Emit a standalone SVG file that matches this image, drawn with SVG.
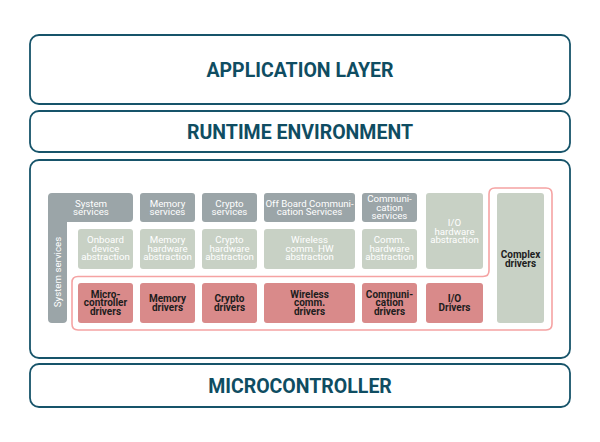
<svg xmlns="http://www.w3.org/2000/svg" width="600" height="442" viewBox="0 0 600 442">
<style>
.layer{fill:#fff;stroke:#17546a;stroke-width:1.8}
.title{font-family:Roboto,"Liberation Sans",sans-serif;font-weight:700;font-size:19.5px;fill:#0f4d62;text-anchor:middle}
.svc{fill:#9ba5a8}
.abs{fill:#c8d1c5}
.drv{fill:#d98a8a}
.t{font-family:Roboto,"Liberation Sans",sans-serif;font-size:9.7px;text-anchor:middle}
.tw{fill:#ffffff}
.tb{fill:#1d1d1d;font-weight:700;font-size:10px}
.outline{fill:none;stroke:#f5a3a3;stroke-width:1.6}
</style>
<rect width="600" height="442" fill="#fff"/>
<g id="application">
<rect class="layer" x="30" y="35" width="540" height="69" rx="9"/>
<text class="title" x="300" y="77">APPLICATION LAYER</text>
</g>
<g id="runtime">
<rect class="layer" x="30" y="111" width="540" height="41" rx="9"/>
<text class="title" x="300" y="138.5">RUNTIME ENVIRONMENT</text>
</g>
<g id="basic-software">
<rect class="layer" x="30" y="160" width="540" height="198" rx="9"/>
</g>
<g id="microcontroller">
<rect class="layer" x="30" y="364" width="540" height="43" rx="9"/>
<text class="title" x="300" y="392.5">MICROCONTROLLER</text>
</g>
<g id="connectors">
<path class="outline" d="M78,276.5 H483 Q489,276.5 489,270.5 V194 Q489,188 495,188 H546 Q552,188 552,194 V324 Q552,330 546,330 H78 Q72,330 72,324 V282.5 Q72,276.5 78,276.5 Z"/>
</g>
<g id="system-services">
<path class="svc" d="M52,193 H129 Q133,193 133,197 V218 Q133,222 129,222 H67 V319 Q67,323 63,323 H52 Q48,323 48,319 V197 Q48,193 52,193 Z"/>
<text class="t tw" x="91" y="206.5">System</text>
<text class="t tw" x="91" y="215">services</text>
<text class="t tw" transform="translate(60.5,272) rotate(-90)" x="0" y="0">System services</text>
</g>
<g id="memory-services">
<rect class="svc" x="140" y="193" width="55" height="29" rx="3"/>
<text class="t tw" x="167.5" y="206.5">Memory</text>
<text class="t tw" x="167.5" y="215">services</text>
</g>
<g id="crypto-services">
<rect class="svc" x="202" y="193" width="55" height="29" rx="3"/>
<text class="t tw" x="229.5" y="206.5">Crypto</text>
<text class="t tw" x="229.5" y="215">services</text>
</g>
<g id="offboard-services">
<rect class="svc" x="264" y="193" width="91" height="29" rx="3"/>
<text class="t tw" x="309.5" y="206.5">Off Board Communi-</text>
<text class="t tw" x="309.5" y="215">cation Services</text>
</g>
<g id="communication-services">
<rect class="svc" x="362" y="193" width="55" height="29" rx="3"/>
<text class="t tw" x="389.5" y="202.3">Communi-</text>
<text class="t tw" x="389.5" y="210.8">cation</text>
<text class="t tw" x="389.5" y="219.3">services</text>
</g>
<g id="onboard-abstraction">
<rect class="abs" x="78" y="229" width="55" height="40" rx="3"/>
<text class="t tw" x="105.5" y="243">Onboard</text>
<text class="t tw" x="105.5" y="251.5">device</text>
<text class="t tw" x="105.5" y="260">abstraction</text>
</g>
<g id="memory-abstraction">
<rect class="abs" x="140" y="229" width="55" height="40" rx="3"/>
<text class="t tw" x="167.5" y="243">Memory</text>
<text class="t tw" x="167.5" y="251.5">hardware</text>
<text class="t tw" x="167.5" y="260">abstraction</text>
</g>
<g id="crypto-abstraction">
<rect class="abs" x="202" y="229" width="55" height="40" rx="3"/>
<text class="t tw" x="229.5" y="243">Crypto</text>
<text class="t tw" x="229.5" y="251.5">hardware</text>
<text class="t tw" x="229.5" y="260">abstraction</text>
</g>
<g id="wireless-abstraction">
<rect class="abs" x="264" y="229" width="91" height="40" rx="3"/>
<text class="t tw" x="309.5" y="243">Wireless</text>
<text class="t tw" x="309.5" y="251.5">comm. HW</text>
<text class="t tw" x="309.5" y="260">abstraction</text>
</g>
<g id="comm-abstraction">
<rect class="abs" x="362" y="229" width="55" height="40" rx="3"/>
<text class="t tw" x="389.5" y="243">Comm.</text>
<text class="t tw" x="389.5" y="251.5">hardware</text>
<text class="t tw" x="389.5" y="260">abstraction</text>
</g>
<g id="io-abstraction">
<rect class="abs" x="426" y="193" width="57" height="76" rx="3"/>
<text class="t tw" x="454.5" y="226">I/O</text>
<text class="t tw" x="454.5" y="234.5">hardware</text>
<text class="t tw" x="454.5" y="243">abstraction</text>
</g>
<g id="complex-drivers">
<rect class="abs" x="497" y="193" width="47" height="130" rx="3"/>
<text class="t tb" x="520.5" y="258">Complex</text>
<text class="t tb" x="520.5" y="266.5">drivers</text>
</g>
<g id="micro-drivers">
<rect class="drv" x="78" y="283" width="55" height="40" rx="3"/>
<text class="t tb" x="105.5" y="297.5">Micro-</text>
<text class="t tb" x="105.5" y="306">controller</text>
<text class="t tb" x="105.5" y="314.5">drivers</text>
</g>
<g id="memory-drivers">
<rect class="drv" x="140" y="283" width="55" height="40" rx="3"/>
<text class="t tb" x="167.5" y="302">Memory</text>
<text class="t tb" x="167.5" y="310.5">drivers</text>
</g>
<g id="crypto-drivers">
<rect class="drv" x="202" y="283" width="55" height="40" rx="3"/>
<text class="t tb" x="229.5" y="302">Crypto</text>
<text class="t tb" x="229.5" y="310.5">drivers</text>
</g>
<g id="wireless-drivers">
<rect class="drv" x="264" y="283" width="91" height="40" rx="3"/>
<text class="t tb" x="309.5" y="297.5">Wireless</text>
<text class="t tb" x="309.5" y="306">comm.</text>
<text class="t tb" x="309.5" y="314.5">drivers</text>
</g>
<g id="comm-drivers">
<rect class="drv" x="362" y="283" width="55" height="40" rx="3"/>
<text class="t tb" x="389.5" y="297.5">Communi-</text>
<text class="t tb" x="389.5" y="306">cation</text>
<text class="t tb" x="389.5" y="314.5">drivers</text>
</g>
<g id="io-drivers">
<rect class="drv" x="426" y="283" width="57" height="40" rx="3"/>
<text class="t tb" x="454.5" y="302">I/O</text>
<text class="t tb" x="454.5" y="310.5">Drivers</text>
</g>
</svg>
